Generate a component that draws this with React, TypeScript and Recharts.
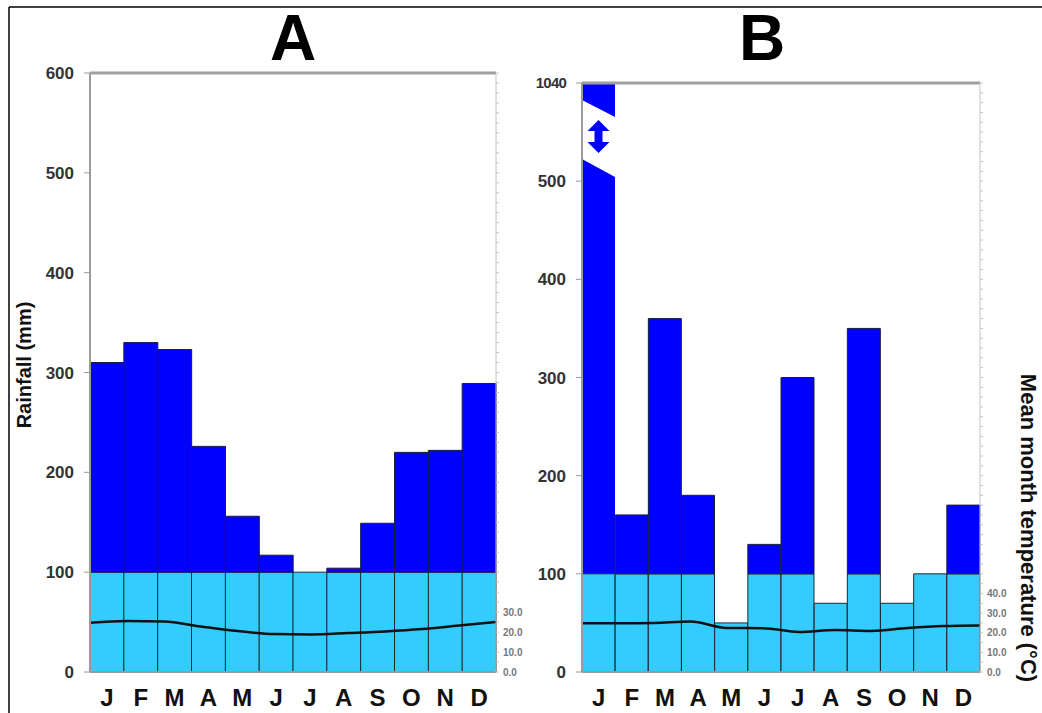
import React from "react";
import { ComposedChart, Bar, Line, XAxis, YAxis, ReferenceLine, Rectangle } from "recharts";

const months = ["J", "F", "M", "A", "M", "J", "J", "A", "S", "O", "N", "D"];

// panel A
const rainA = [310, 330, 323, 226, 156, 117, 100, 104, 149, 220, 222, 289];
const tempA = [24.7, 25.5, 25.3, 22.8, 20.5, 19.0, 18.8, 19.5, 20.3, 21.5, 23.3, 25.0];
const tempLabelsA = [0, 10, 20, 30];

// panel B (January goes off the scale)
const rainB = [1040, 160, 360, 180, 50, 130, 300, 70, 350, 70, 100, 170];
const tempB = [24.8, 24.8, 25.0, 25.7, 22.4, 22.3, 20.4, 21.4, 20.9, 22.4, 23.4, 23.7];
const tempLabelsB = [0, 10, 20, 30, 40];

const rainTicks = [0, 100, 200, 300, 400, 500, 600];
const RAIN_TOP = 600;
const WET = 100;
const FONT = "'Liberation Sans', Arial, sans-serif";

const minorTempTicks: number[] = [];
for (let t = 0; t <= 300; t += 5) minorTempTicks.push(t);

function buildRows(rain: number[], temp: number[]) {
  return rain.map((v, i) => ({
    idx: i,
    light: Math.min(v, WET),
    dark: Math.max(Math.min(v, RAIN_TOP) - WET, 0),
    broken: v > RAIN_TOP,
    rain: v,
    temp: temp[i],
  }));
}

// dark bar; the off-scale one is drawn with a break and a double arrow
const DarkBar = (props: any) => {
  const { x, y, width: w, height: h, fill } = props;
  const broken = props.payload?.broken ?? props.broken;
  if (!broken) return <Rectangle {...props} />;
  const cx = x + w / 2;
  const a1 = y + 37;
  const a2 = y + 70;
  const top = `${x},${y} ${x + w},${y} ${x + w},${y + 34} ${x},${y + 17}`;
  const bottom = `${x},${y + 76} ${x + w},${y + 94} ${x + w},${y + h} ${x},${y + h}`;
  const arrow = [
    [cx, a1], [cx + 11, a1 + 11], [cx + 4, a1 + 11], [cx + 4, a2 - 11], [cx + 11, a2 - 11],
    [cx, a2], [cx - 11, a2 - 11], [cx - 4, a2 - 11], [cx - 4, a1 + 11], [cx - 11, a1 + 11],
  ].map((p) => p.join(",")).join(" ");
  return (
    <g>
      <polygon points={top} fill={fill} />
      <polygon points={bottom} fill={fill} />
      <polygon points={arrow} fill={fill} />
    </g>
  );
};

const MonthTick = ({ x, y, payload }: any) => (
  <text x={x} y={y + 34} textAnchor="middle" fontSize={24} fontWeight="bold" fill="#111" fontFamily={FONT}>
    {months[payload.value]}
  </text>
);

const makeRainTick = (topLabel?: string) => ({ x, y, payload }: any) => {
  const isTop = topLabel && payload.value === RAIN_TOP;
  return (
    <text x={x} y={y} dy="0.36em" textAnchor="end" fontSize={isTop ? 15 : 17} fontWeight="bold"
      fill="#333" fontFamily={FONT} letterSpacing={isTop ? -0.8 : 0}>
      {isTop ? topLabel : payload.value}
    </text>
  );
};

const makeTempTick = (labels: number[]) => ({ x, y, payload }: any) =>
  labels.includes(payload.value) ? (
    <text x={x} y={y} dy="0.36em" textAnchor="start" fontSize={10} fontWeight="bold" fill="#777" fontFamily={FONT}>
      {payload.value.toFixed(1)}
    </text>
  ) : <g />;

interface PanelProps {
  rain: number[];
  temp: number[];
  tempLabels: number[];
  left: number;
  plotTop: number;
  marginLeft: number;
  marginRight: number;
  topLabel?: string;
}

function Panel({ rain, temp, tempLabels, left, plotTop, marginLeft, marginRight, topLabel }: PanelProps) {
  const rows = buildRows(rain, temp);
  return (
    <div style={{ position: "absolute", left, top: 0 }}>
      <ComposedChart
        width={540}
        height={713}
        data={rows}
        barCategoryGap={0}
        margin={{ top: plotTop, right: marginRight, bottom: 11, left: marginLeft }}
      >
        <XAxis
          xAxisId="cat"
          dataKey="idx"
          type="category"
          height={30}
          tickSize={0}
          tickMargin={0}
          tickLine={false}
          axisLine={{ stroke: "#999", strokeWidth: 2 }}
          tick={<MonthTick />}
          interval={0}
        />
        <XAxis xAxisId="t" dataKey="idx" type="number" domain={[0, 11]} hide />
        <YAxis
          yAxisId="rain"
          domain={[0, RAIN_TOP]}
          ticks={rainTicks}
          interval={0}
          width={60}
          tickSize={6}
          tickMargin={10}
          axisLine={{ stroke: "#9a9a9a", strokeWidth: 2 }}
          tickLine={{ stroke: "#9a9a9a" }}
          tick={makeRainTick(topLabel)}
        />
        <YAxis
          yAxisId="temp"
          orientation="right"
          domain={[0, 300]}
          ticks={minorTempTicks}
          interval={0}
          width={40}
          tickSize={3}
          tickMargin={4}
          axisLine={{ stroke: "#c4c4c4" }}
          tickLine={{ stroke: "#c4c4c4" }}
          tick={makeTempTick(tempLabels)}
        />
        <ReferenceLine xAxisId="cat" yAxisId="rain" y={RAIN_TOP} stroke="#a0a0a0" strokeWidth={3} />
        <Bar xAxisId="cat" yAxisId="rain" dataKey="light" stackId="r" fill="#33CCFF"
          stroke="#1c2a30" strokeWidth={1} isAnimationActive={false} />
        <Bar xAxisId="cat" yAxisId="rain" dataKey="dark" stackId="r" fill="#0000FF"
          stroke="#1c1c40" strokeWidth={1} shape={DarkBar} isAnimationActive={false} />
        <Line xAxisId="t" yAxisId="temp" dataKey="temp" type="monotone" stroke="#111"
          strokeWidth={2.5} dot={false} isAnimationActive={false} />
      </ComposedChart>
    </div>
  );
}

export default function App() {
  return (
    <div style={{ position: "fixed", left: 0, top: 0, width: 1042, height: 713, background: "#fff", overflow: "hidden" }}>
      <Panel rain={rainA} temp={tempA} tempLabels={tempLabelsA} left={0} plotTop={73} marginLeft={30} marginRight={4} />
      <Panel rain={rainB} temp={tempB} tempLabels={tempLabelsB} left={500} plotTop={83} marginLeft={22} marginRight={20} topLabel="1040" />
      <svg width={1042} height={713} style={{ position: "absolute", left: 0, top: 0, pointerEvents: "none" }}>
        <line x1={9} y1={7} x2={1042} y2={7} stroke="#000" strokeWidth={1.5} />
        <line x1={9} y1={7} x2={9} y2={713} stroke="#000" strokeWidth={1.5} />
        <text x={293} y={60} textAnchor="middle" fontSize={64} fontWeight="bold" fontFamily={FONT}>A</text>
        <text x={762} y={60} textAnchor="middle" fontSize={64} fontWeight="bold" fontFamily={FONT}>B</text>
        <text transform="translate(24,365) rotate(-90)" textAnchor="middle" dominantBaseline="central"
          fontSize={20} fontWeight="bold" fontFamily={FONT} fill="#111">Rainfall (mm)</text>
        <text transform="translate(1028,528) rotate(90)" textAnchor="middle" dominantBaseline="central"
          fontSize={22} fontWeight="bold" fontFamily={FONT} fill="#111">Mean month temperature (°C)</text>
      </svg>
    </div>
  );
}
